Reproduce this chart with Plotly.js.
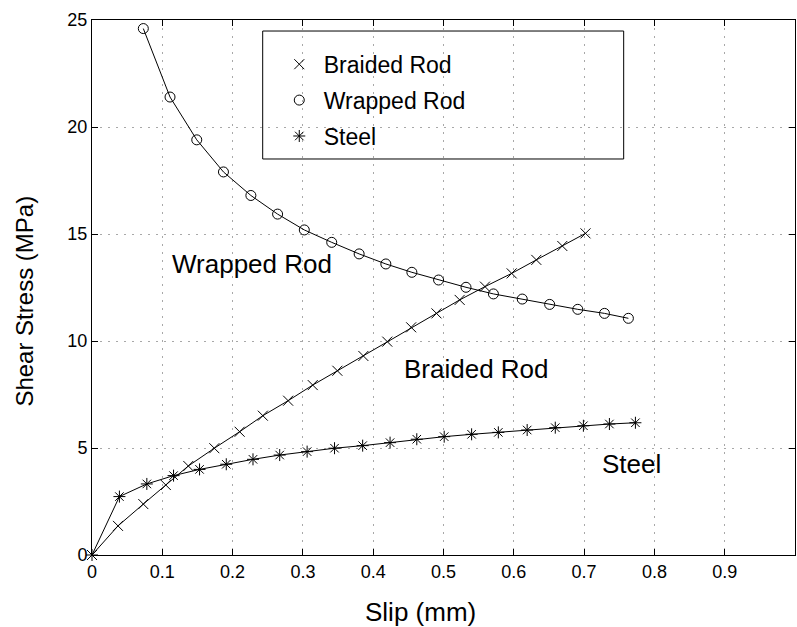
<!DOCTYPE html>
<html>
<head>
<meta charset="utf-8">
<script src="https://cdn.plot.ly/plotly-3.0.1.min.js"></script>
<style>html,body{margin:0;padding:0;background:#fff;}#chart{width:797px;height:627px;}</style>
</head>
<body>
<div id="chart"></div>
<script>
// Data
var seriesNames = ["Braided Rod", "Wrapped Rod", "Steel"];

var braidedX = [0, 0.037, 0.073, 0.105, 0.137, 0.174, 0.210, 0.243, 0.279, 0.314, 0.349, 0.386, 0.420, 0.454, 0.490, 0.523, 0.559, 0.597, 0.632, 0.669, 0.702];
var braidedY = [0, 1.36, 2.38, 3.27, 4.16, 4.99, 5.76, 6.51, 7.21, 7.94, 8.61, 9.30, 9.97, 10.64, 11.29, 11.92, 12.54, 13.16, 13.79, 14.44, 15.03];

var wrappedX = [0.073, 0.111, 0.149, 0.187, 0.226, 0.264, 0.302, 0.341, 0.380, 0.418, 0.455, 0.493, 0.532, 0.571, 0.612, 0.651, 0.691, 0.729, 0.763];
var wrappedY = [24.6, 21.4, 19.4, 17.9, 16.8, 15.93, 15.19, 14.61, 14.07, 13.6, 13.21, 12.85, 12.51, 12.2, 11.96, 11.71, 11.48, 11.29, 11.06];

var steelX = [0, 0.039, 0.078, 0.116, 0.153, 0.191, 0.229, 0.267, 0.306, 0.345, 0.385, 0.424, 0.462, 0.501, 0.540, 0.578, 0.619, 0.659, 0.699, 0.736, 0.773];
var steelY = [0, 2.73, 3.32, 3.71, 4.0, 4.24, 4.47, 4.67, 4.83, 4.99, 5.11, 5.25, 5.41, 5.53, 5.64, 5.73, 5.84, 5.95, 6.04, 6.12, 6.18];

var xTickVals = [0, 0.1, 0.2, 0.3, 0.4, 0.5, 0.6, 0.7, 0.8, 0.9];
var xTickText = ["0", "0.1", "0.2", "0.3", "0.4", "0.5", "0.6", "0.7", "0.8", "0.9"];
var yTickVals = [0, 5, 10, 15, 20, 25];
var yTickText = ["0", "5", "10", "15", "20", "25"];

var xTitle = "Slip (mm)";
var yTitle = "Shear Stress (MPa)";

// Curve labels placed in data space
var labelText = ["Wrapped Rod", "Braided Rod", "Steel"];
var labelX = [0.227, 0.547, 0.767];
var labelY = [13.6, 8.69, 4.25];

var FONT = "Liberation Sans, Arial, Helvetica, sans-serif";
var symbols = ["x-thin-open", "circle-open", "asterisk-open"];
var sizes = [10, 10, 10];
var xs = [braidedX, wrappedX, steelX];
var ys = [braidedY, wrappedY, steelY];

var traces = [];
for (var i = 0; i < 3; i++) {
  traces.push({
    x: xs[i], y: ys[i], type: "scatter", mode: "lines+markers",
    line: {color: "#000", width: 1},
    marker: {symbol: symbols[i], size: sizes[i], color: "#000", line: {color: "#000", width: 1}},
    showlegend: false, cliponaxis: false, hoverinfo: "skip"
  });
}
for (var j = 0; j < 3; j++) {
  traces.push({
    x: [null], y: [null], type: "scatter", mode: "markers", name: seriesNames[j],
    legendgroup: "g" + j,
    marker: {symbol: symbols[j], size: sizes[j], color: "#000", line: {color: "#000", width: 1}},
    showlegend: true
  });
}

var annotations = [];
for (var k = 0; k < labelText.length; k++) {
  annotations.push({x: labelX[k], y: labelY[k], xref: "x", yref: "y", text: labelText[k], showarrow: false,
    font: {family: FONT, size: 26, color: "#000"}, xanchor: "center", yanchor: "middle"});
}
annotations.push({x: 0.4666, y: -0.107, xref: "paper", yref: "paper", text: xTitle, showarrow: false,
  font: {family: FONT, size: 26, color: "#000"}, xanchor: "center", yanchor: "middle"});
annotations.push({x: -0.0957, y: 0.475, xref: "paper", yref: "paper", text: yTitle, showarrow: false, textangle: -90,
  font: {family: FONT, size: 24, color: "#000"}, xanchor: "center", yanchor: "middle"});

var axisCommon = {
  showline: true, linecolor: "#000", linewidth: 1, mirror: "ticks",
  ticks: "inside", ticklen: 6, tickwidth: 1, tickcolor: "#000",
  showgrid: true, gridcolor: "#a8a8a8", gridwidth: 1, griddash: "2px,6px",
  zeroline: false, tickfont: {family: FONT, size: 18, color: "#000"}, tickmode: "array"
};

var layout = {
  width: 797, height: 627,
  margin: {l: 92, r: 2, t: 20, b: 72, pad: 0},
  paper_bgcolor: "#fff", plot_bgcolor: "#fff",
  xaxis: Object.assign({}, axisCommon, {range: [0, 1], tickvals: xTickVals, ticktext: xTickText}),
  yaxis: Object.assign({}, axisCommon, {range: [0, 25], tickvals: yTickVals, ticktext: yTickText}),
  showlegend: true,
  legend: {x: 0.26, y: 0.9575, xanchor: "left", yanchor: "top", bgcolor: "rgba(0,0,0,0)", borderwidth: 0,
    font: {family: FONT, size: 23, color: "#000"}, tracegroupgap: 3, traceorder: "grouped", itemwidth: 39},
  shapes: [{type: "rect", xref: "paper", yref: "paper", x0: 0.2428, x1: 0.7563, y0: 0.7402, y1: 0.9794,
    line: {color: "#000", width: 1}, fillcolor: "#fff", layer: "below"}],
  annotations: annotations
};

Plotly.newPlot("chart", traces, layout, {staticPlot: true, displayModeBar: false});
</script>
</body>
</html>
